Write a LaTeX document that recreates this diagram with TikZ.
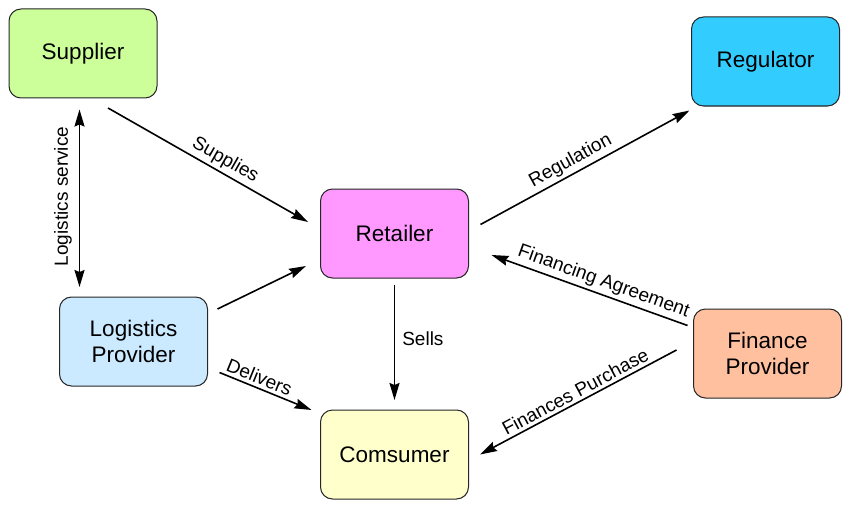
\documentclass[tikz,border=0pt]{standalone}
\usepackage{fontspec}
\setmainfont{Liberation Sans}
\usetikzlibrary{arrows.meta,calc}
\definecolor{cSup}{RGB}{204,255,153}
\definecolor{cReg}{RGB}{51,204,255}
\definecolor{cRet}{RGB}{255,153,255}
\definecolor{cLog}{RGB}{204,234,255}
\definecolor{cFin}{RGB}{255,192,160}
\definecolor{cCon}{RGB}{255,255,204}
\tikzset{
  box/.style={draw=black!85, line width=1pt, rounded corners=12pt,
    minimum width=148pt, minimum height=89pt, align=center,
    font=\fontsize{22.5}{26}\selectfont, inner sep=0pt},
  conn/.style={line width=1.6pt, -{Stealth[length=17pt,width=10pt,inset=2pt]}},
  lbl/.style={font=\fontsize{19}{22}\selectfont, inner sep=3pt}
}
\begin{document}
\begin{tikzpicture}[x=1pt,y=-1pt]
\useasboundingbox (0,0) rectangle (860,511);
\node[box, fill=cSup] (sup) at (83,53.5) {Supplier};
\node[box, fill=cReg] (reg) at (765.5,61.5) {Regulator};
\node[box, fill=cRet] (ret) at (394.5,233.5) {Retailer};
\node[box, fill=cLog] (log) at (133.5,341.5) {Logistics\\Provider};
\node[box, fill=cFin] (fin) at (767.5,353.5) {Finance\\Provider};
\node[box, fill=cCon] (con) at (394.5,454.5) {Comsumer};

\draw[conn] ([shift={(25,54.5)}]sup.center) -- node[lbl, sloped, above, pos=0.555] {Supplies} ([shift={(-86.5,-11.5)}]ret.center);
\draw[line width=1.6pt, {Stealth[length=17pt,width=10pt,inset=2pt]}-{Stealth[length=17pt,width=10pt,inset=2pt]}]
  ([shift={(-54,-54.5)}]log.center) -- node[lbl, sloped, above, pos=0.51, inner sep=7pt] {Logistics service} ([shift={(-3.5,56)}]sup.center);
\draw[conn] ([shift={(84,-32.5)}]log.center) -- ([shift={(-88.5,32.5)}]ret.center);
\draw[conn] ([shift={(86,31)}]log.center) -- node[lbl, sloped, above, pos=0.39] {Delivers} ([shift={(-83,-44.5)}]con.center);
\draw[conn] ([shift={(0,51.5)}]ret.center) -- node[lbl, right, pos=0.47, inner sep=7pt] {Sells} ([shift={(0,-54.5)}]con.center);
\draw[conn] ([shift={(86,-9)}]ret.center) -- node[lbl, sloped, above, pos=0.46] {Regulation} ([shift={(-76,49)}]reg.center);
\draw[conn] ([shift={(-80,-28)}]fin.center) -- node[lbl, sloped, above, pos=0.45] {Financing Agreement} ([shift={(97,21.5)}]ret.center);
\draw[conn] ([shift={(-91,-3.5)}]fin.center) -- node[lbl, sloped, above, pos=0.49] {Finances Purchase} ([shift={(85.5,0)}]con.center);
\end{tikzpicture}
\end{document}
